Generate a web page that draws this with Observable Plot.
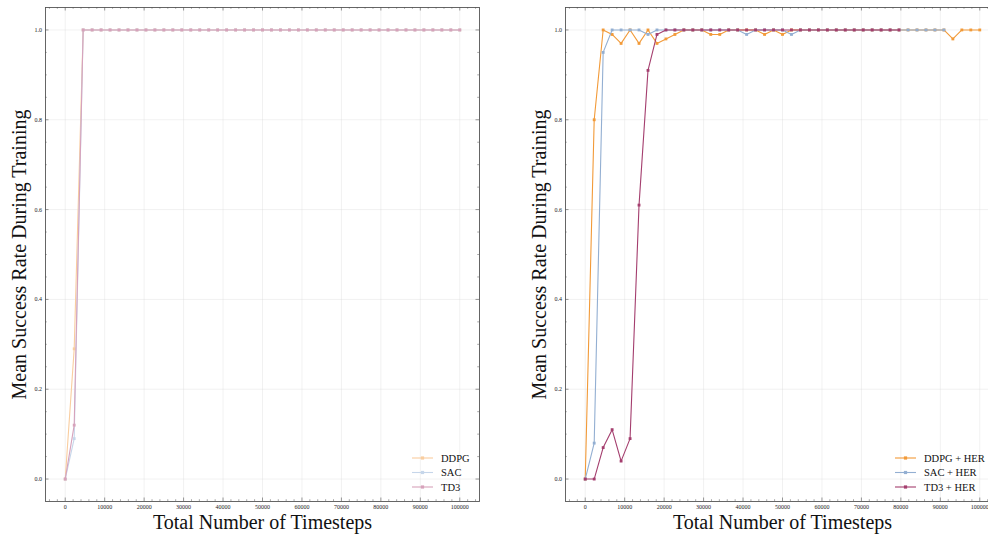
<!DOCTYPE html>
<html>
<head>
<meta charset="utf-8">
<script src="https://cdn.jsdelivr.net/npm/d3@7"></script>
<script src="https://cdn.jsdelivr.net/npm/@observablehq/plot@0.6"></script>
<style>
  html, body { margin: 0; padding: 0; background: #fff; overflow: hidden; }
  #wrap { position: relative; width: 988px; height: 540px; overflow: hidden; }
  .panel { position: absolute; top: 0; width: 494px; height: 540px; }
  .panel svg { max-width: none !important; }
</style>
</head>
<body>
<div id="wrap">
  <div class="panel" id="left" style="left:0px"></div>
  <div class="panel" id="right" style="left:520px"></div>
</div>
<script>
// ---- data ----
const timesteps = [0, 2273, 4545, 6818, 9091, 11364, 13636, 15909, 18182, 20455,
  22727, 25000, 27273, 29545, 31818, 34091, 36364, 38636, 40909, 43182,
  45455, 47727, 50000, 52273, 54545, 56818, 59091, 61364, 63636, 65909,
  68182, 70455, 72727, 75000, 77273, 79545, 81818, 84091, 86364, 88636,
  90909, 93182, 95455, 97727, 100000];

const ddpg = [0, 0.29, 1, 1, 1, 1, 1, 1, 1, 1, 1, 1, 1, 1, 1, 1, 1, 1, 1, 1, 1, 1, 1,
  1, 1, 1, 1, 1, 1, 1, 1, 1, 1, 1, 1, 1, 1, 1, 1, 1, 1, 1, 1, 1, 1];
const sac = [0, 0.09, 1, 1, 1, 1, 1, 1, 1, 1, 1, 1, 1, 1, 1, 1, 1, 1, 1, 1, 1, 1, 1,
  1, 1, 1, 1, 1, 1, 1, 1, 1, 1, 1, 1, 1, 1, 1, 1, 1, 1, 1, 1, 1, 1];
const td3 = [0, 0.12, 1, 1, 1, 1, 1, 1, 1, 1, 1, 1, 1, 1, 1, 1, 1, 1, 1, 1, 1, 1, 1,
  1, 1, 1, 1, 1, 1, 1, 1, 1, 1, 1, 1, 1, 1, 1, 1, 1, 1, 1, 1, 1, 1];

const ddpgHer = [0, 0.80, 1.0, 0.99, 0.97, 1.0, 0.97, 1.0, 0.97, 0.98, 0.99, 1.0, 1.0, 1.0,
  0.99, 0.99, 1.0, 1.0, 1.0, 1.0, 0.99, 1.0, 0.99, 1.0, 1.0, 1.0, 1.0, 1.0, 1.0, 1.0,
  1.0, 1.0, 1.0, 1.0, 1.0, 1.0, 1.0, 1.0, 1.0, 1.0, 1.0, 0.98, 1.0, 1.0, 1.0];
const sacHer = [0, 0.08, 0.95, 1.0, 1.0, 1.0, 1.0, 0.99, 1.0, 1.0, 1.0, 1.0, 1.0, 1.0,
  1.0, 1.0, 1.0, 1.0, 0.99, 1.0, 1.0, 1.0, 1.0, 0.99, 1.0, 1.0, 1.0, 1.0, 1.0, 1.0,
  1.0, 1.0, 1.0, 1.0, 1.0, 1.0, 1.0, 1.0, 1.0, 1.0, 1.0];
const td3Her = [0, 0, 0.07, 0.11, 0.04, 0.09, 0.61, 0.91, 0.99, 1.0, 1.0, 1.0, 1.0, 1.0,
  1.0, 1.0, 1.0, 1.0, 1.0, 1.0, 1.0, 1.0, 1.0, 1.0, 1.0, 1.0, 1.0, 1.0, 1.0, 1.0,
  1.0, 1.0, 1.0, 1.0, 1.0, 1.0];

const leftNames = ["DDPG", "SAC", "TD3"];
const rightNames = ["DDPG + HER", "SAC + HER", "TD3 + HER"];
const xTicks = [0, 10000, 20000, 30000, 40000, 50000, 60000, 70000, 80000, 90000, 100000];
const yTicks = [0.0, 0.2, 0.4, 0.6, 0.8, 1.0];
const xLabel = "Total Number of Timesteps";
const yLabel = "Mean Success Rate During Training";

// ---- drawing ----
const strongColors = ["#f29a38", "#93afd2", "#a43e6e"];
const paleColors = ["#f9cd9f", "#c6d6ea", "#d7a2bb"];
const FONT = "Liberation Serif, DejaVu Serif, serif";
const W = 494, H = 540, mL = 45, mR = 15, mT = 7, mB = 39;
const frameH = H - mT - mB, frameW = W - mL - mR;
const xMinor = d3.range(-4000, 105000, 2000).filter(v => v % 10000 !== 0);
const yMinor = d3.range(-1, 22).map(i => +(i * 0.05).toFixed(2)).filter(v => Math.round(v * 100) % 20 !== 0 && v > -0.05 && v < 1.05);

function rows(vals) { return vals.map((v, i) => ({t: timesteps[i], v})); }

function panel(series, names, colors, legendX) {
  const marks = [
    Plot.gridX(xTicks, {stroke: "#d8d8d8", strokeOpacity: 0.5, strokeWidth: 0.7}),
    Plot.gridY(yTicks, {stroke: "#d8d8d8", strokeOpacity: 0.5, strokeWidth: 0.7})
  ];
  series.forEach((s, k) => {
    const d = rows(s);
    marks.push(Plot.line(d, {x: "t", y: "v", stroke: colors[k], strokeWidth: 1.1}));
    marks.push(Plot.dot(d, {x: "t", y: "v", symbol: "square", r: 1.6, fill: colors[k], stroke: null}));
  });
  const tk = "#555";
  marks.push(
    Plot.frame({stroke: "#555", strokeWidth: 0.9}),
    Plot.tickX(xTicks, {x: d => d, insetTop: frameH - 3.5, stroke: tk, strokeWidth: 0.6}),
    Plot.tickX(xTicks, {x: d => d, insetBottom: frameH - 3.5, stroke: tk, strokeWidth: 0.6}),
    Plot.tickX(xMinor, {x: d => d, insetTop: frameH - 1.8, stroke: tk, strokeWidth: 0.5}),
    Plot.tickX(xMinor, {x: d => d, insetBottom: frameH - 1.8, stroke: tk, strokeWidth: 0.5}),
    Plot.tickY(yTicks, {y: d => d, insetRight: frameW - 3.5, stroke: tk, strokeWidth: 0.6}),
    Plot.tickY(yTicks, {y: d => d, insetLeft: frameW - 3.5, stroke: tk, strokeWidth: 0.6}),
    Plot.tickY(yMinor, {y: d => d, insetRight: frameW - 1.8, stroke: tk, strokeWidth: 0.5}),
    Plot.tickY(yMinor, {y: d => d, insetLeft: frameW - 1.8, stroke: tk, strokeWidth: 0.5}),
    Plot.axisX(xTicks, {tickSize: 0, tickPadding: 3, fontSize: 6, tickFormat: "d", label: null, fill: "#222"}),
    Plot.axisY(yTicks, {tickSize: 0, tickPadding: 3.5, fontSize: 6, tickFormat: ".1f", label: null, fill: "#222"}),
    Plot.text([xLabel], {text: d => d, frameAnchor: "bottom", textAnchor: "middle", dy: 21, lineAnchor: "middle", fontSize: 20, fill: "#111"}),
    Plot.text([yLabel], {text: d => d, frameAnchor: "left", textAnchor: "middle", dx: -26, rotate: -90, lineAnchor: "middle", fontSize: 20, fill: "#111"})
  );
  const svg = Plot.plot({
    width: W, height: H,
    marginLeft: mL, marginRight: mR, marginTop: mT, marginBottom: mB,
    style: {fontFamily: FONT, background: "transparent", overflow: "visible", maxWidth: "none"},
    x: {domain: [-5000, 105000]},
    y: {domain: [-0.05, 1.05]},
    marks
  });
  // legend
  const g = d3.select(svg).append("g").attr("font-family", FONT).attr("font-size", 10.5).attr("text-anchor", "start");
  const ys = [458, 472.5, 487];
  names.forEach((n, k) => {
    g.append("line").attr("x1", legendX).attr("x2", legendX + 21).attr("y1", ys[k]).attr("y2", ys[k])
      .attr("stroke", colors[k]).attr("stroke-width", 1.1);
    g.append("rect").attr("x", legendX + 10.5 - 1.6).attr("y", ys[k] - 1.6).attr("width", 3.2).attr("height", 3.2)
      .attr("fill", colors[k]);
    g.append("text").attr("x", legendX + 29).attr("y", ys[k]).attr("dy", "0.35em").attr("fill", "#111").text(n);
  });
  return svg;
}

document.getElementById("left").appendChild(panel([ddpg, sac, td3], leftNames, paleColors, 412));
document.getElementById("right").appendChild(panel([ddpgHer, sacHer, td3Her], rightNames, strongColors, 375));
</script>
</body>
</html>
